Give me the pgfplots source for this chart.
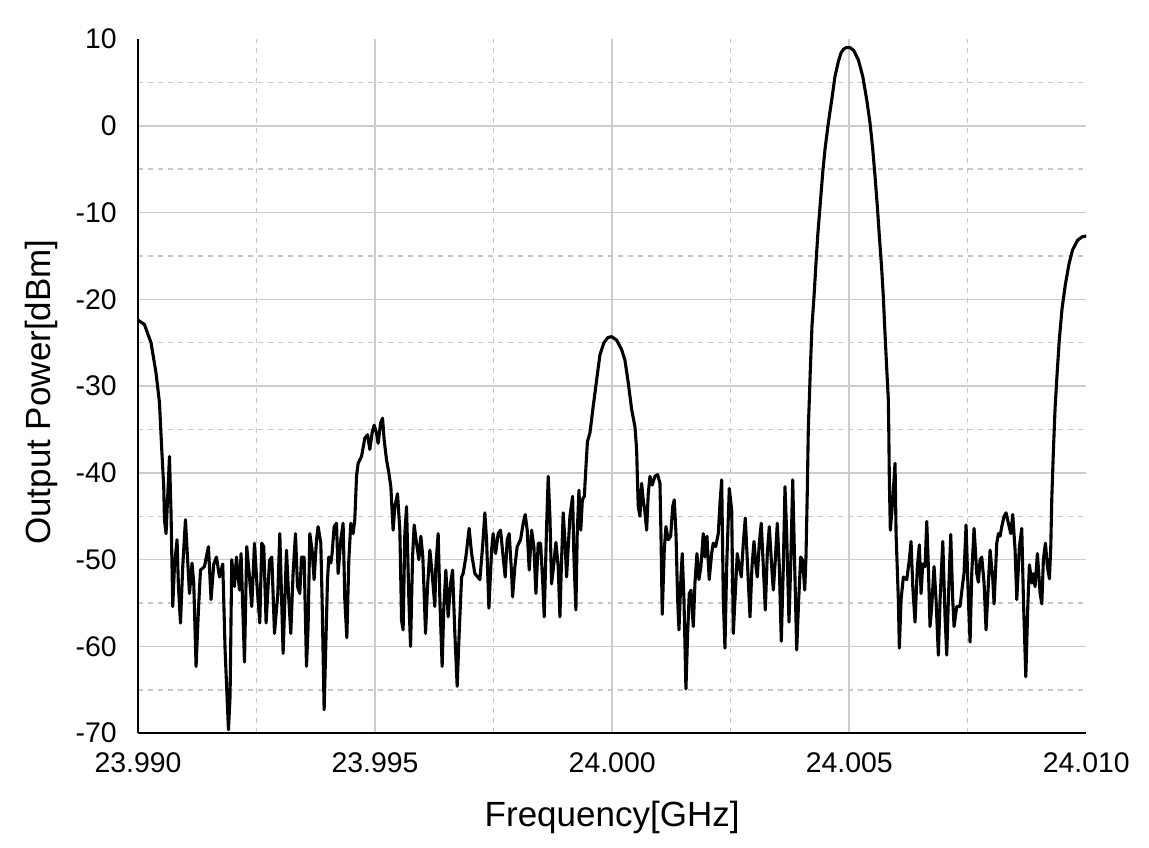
\documentclass[border=0pt]{standalone}
\usepackage{pgfplots}
\pgfplotsset{compat=1.18}
\usepackage{fontspec}
\setmainfont{Liberation Sans}

% x is stored as offset from 24.000 GHz in MHz (keeps precision), relabelled on the axis
\begin{document}
\begin{tikzpicture}
\useasboundingbox (-69pt,-57pt) rectangle (505.35pt,366.5pt);
\begin{axis}[
    at={(0pt,0pt)}, anchor=south west,
    scale only axis,
    width=474pt, height=347pt,
    xmin=-10, xmax=10,
    ymin=-70, ymax=10,
    axis x line*=bottom, axis y line*=left,
    axis line style={-, line width=1.2pt, black},
    major tick length=0pt, minor tick length=0pt,
    xtick={-10,-5,0,5},
    xticklabels={23.990,23.995,24.000,24.005},
    extra x ticks={10}, extra x tick labels={24.010},
    ytick={-70,-60,-50,-40,-30,-20,-10,0},
    yticklabels={-70,-60,-50,-40,-30,-20,-10,0},
    extra y ticks={10}, extra y tick labels={10},
    extra tick style={grid=none},
    minor xtick={-7.5,-2.5,2.5,7.5},
    minor ytick={-65,-55,-45,-35,-25,-15,-5,5},
    grid=both,
    major grid style={solid, black!20, line width=0.75pt},
    minor grid style={black!22, line width=0.7pt, dash pattern=on 2.5pt off 2.5pt},
    /pgf/number format/assume math mode=true,
    tick label style={font=\fontsize{14.2}{16}\selectfont},
    xticklabel style={anchor=north, inner sep=0pt, yshift=-9.5pt},
    yticklabel style={anchor=east, inner sep=0pt, xshift=-10.5pt},
    xlabel={Frequency[GHz]},
    ylabel={Output Power[dBm]},
    label style={font=\fontsize{17.5}{20}\selectfont},
    xlabel style={at={([yshift=-46.5pt]axis description cs:0.5,0)}, anchor=base},
    ylabel style={at={([xshift=-44pt, yshift=-3pt]axis description cs:0,0.5)}, anchor=base, rotate=0},
  ]
\addplot[black, line width=1.55pt, line join=round, mark=none] table {
x y
-10.000 -22.4
-9.865 -22.9
-9.726 -25.0
-9.620 -28.5
-9.548 -31.9
-9.500 -37.3
-9.458 -41.6
-9.443 -45.4
-9.409 -47.0
-9.337 -38.1
-9.304 -44.6
-9.268 -55.4
-9.232 -50.8
-9.177 -47.7
-9.148 -53.1
-9.105 -57.3
-9.057 -50.8
-9.000 -45.4
-8.951 -50.3
-8.915 -53.9
-8.861 -50.4
-8.825 -52.7
-8.776 -62.3
-8.726 -55.8
-8.683 -51.2
-8.599 -50.8
-8.515 -48.5
-8.460 -54.6
-8.403 -50.5
-8.346 -49.7
-8.282 -52.0
-8.213 -50.5
-8.164 -60.4
-8.093 -69.6
-8.059 -65.8
-8.023 -50.0
-7.966 -53.1
-7.924 -49.7
-7.861 -53.5
-7.827 -49.3
-7.755 -61.8
-7.707 -48.5
-7.649 -52.0
-7.601 -55.4
-7.544 -48.1
-7.489 -53.1
-7.432 -57.3
-7.390 -48.1
-7.348 -48.5
-7.299 -57.3
-7.227 -50.1
-7.179 -49.7
-7.122 -58.5
-7.052 -53.9
-7.010 -47.0
-6.940 -60.8
-6.869 -48.9
-6.820 -54.6
-6.778 -58.5
-6.730 -51.6
-6.679 -47.0
-6.637 -53.1
-6.588 -53.9
-6.552 -49.7
-6.497 -49.7
-6.447 -62.3
-6.413 -57.7
-6.377 -47.0
-6.329 -48.9
-6.286 -52.3
-6.236 -47.7
-6.202 -46.2
-6.145 -48.1
-6.118 -54.6
-6.075 -67.3
-6.033 -58.5
-6.004 -52.3
-5.976 -49.7
-5.934 -50.4
-5.907 -49.3
-5.864 -46.2
-5.814 -45.8
-5.780 -51.6
-5.723 -47.7
-5.675 -45.8
-5.639 -54.6
-5.596 -59.0
-5.554 -50.0
-5.512 -45.8
-5.464 -47.0
-5.428 -45.4
-5.392 -40.4
-5.358 -38.9
-5.286 -38.1
-5.217 -36.0
-5.160 -35.6
-5.111 -37.3
-5.063 -35.4
-5.020 -34.5
-4.970 -35.4
-4.936 -36.6
-4.885 -34.3
-4.843 -33.7
-4.809 -36.2
-4.759 -38.5
-4.710 -40.0
-4.668 -41.6
-4.620 -46.6
-4.584 -43.9
-4.527 -42.4
-4.478 -46.6
-4.442 -57.0
-4.409 -58.1
-4.373 -47.0
-4.337 -43.9
-4.288 -54.6
-4.252 -60.0
-4.210 -49.7
-4.176 -46.0
-4.126 -48.1
-4.077 -50.0
-4.035 -47.3
-3.993 -49.7
-3.936 -58.5
-3.894 -53.1
-3.845 -48.9
-3.797 -51.6
-3.740 -55.4
-3.719 -50.8
-3.670 -47.0
-3.634 -54.6
-3.586 -62.3
-3.550 -55.4
-3.508 -51.2
-3.459 -56.6
-3.408 -52.7
-3.366 -51.2
-3.318 -58.5
-3.269 -64.6
-3.227 -58.5
-3.176 -52.0
-3.143 -51.6
-3.086 -49.7
-3.016 -46.4
-2.965 -49.3
-2.896 -51.6
-2.790 -52.3
-2.733 -48.5
-2.685 -44.6
-2.649 -47.7
-2.600 -55.6
-2.543 -48.9
-2.510 -47.0
-2.459 -49.3
-2.404 -47.0
-2.354 -46.6
-2.299 -49.7
-2.256 -52.0
-2.214 -47.7
-2.172 -47.0
-2.121 -51.6
-2.100 -54.3
-2.052 -50.8
-2.003 -48.5
-1.932 -47.7
-1.877 -45.8
-1.834 -44.8
-1.792 -46.6
-1.750 -51.2
-1.699 -46.6
-1.651 -48.5
-1.608 -53.9
-1.560 -48.1
-1.510 -48.1
-1.467 -52.3
-1.433 -56.6
-1.383 -46.2
-1.349 -40.4
-1.313 -45.0
-1.278 -52.8
-1.229 -50.4
-1.187 -48.0
-1.138 -50.8
-1.102 -56.6
-1.067 -50.0
-1.033 -44.6
-0.997 -47.7
-0.961 -52.0
-0.891 -45.0
-0.834 -42.7
-0.807 -49.7
-0.765 -55.8
-0.737 -47.0
-0.701 -42.0
-0.662 -46.6
-0.629 -43.1
-0.587 -42.7
-0.553 -39.3
-0.522 -36.4
-0.469 -35.4
-0.399 -32.3
-0.328 -29.3
-0.258 -26.4
-0.174 -25.0
-0.089 -24.4
-0.011 -24.3
0.094 -24.7
0.200 -25.8
0.269 -27.0
0.339 -29.6
0.411 -32.7
0.481 -34.7
0.516 -37.3
0.529 -40.0
0.550 -43.9
0.586 -45.0
0.621 -41.2
0.655 -43.1
0.691 -44.5
0.727 -46.6
0.761 -42.4
0.797 -40.4
0.845 -41.4
0.902 -40.4
0.959 -40.2
1.008 -41.2
1.029 -47.0
1.056 -56.3
1.099 -48.9
1.134 -46.2
1.183 -47.7
1.234 -47.3
1.276 -43.9
1.310 -43.1
1.346 -47.0
1.381 -54.6
1.409 -58.1
1.451 -52.0
1.478 -49.3
1.514 -54.6
1.556 -64.9
1.592 -58.5
1.626 -53.9
1.662 -53.5
1.711 -57.7
1.746 -52.7
1.788 -49.3
1.830 -52.3
1.872 -50.8
1.921 -47.0
1.957 -49.7
1.999 -47.3
2.047 -52.3
2.098 -49.3
2.132 -48.1
2.183 -48.5
2.238 -47.0
2.274 -43.5
2.310 -40.8
2.344 -54.6
2.379 -60.2
2.415 -50.8
2.470 -41.8
2.521 -44.3
2.555 -58.5
2.590 -54.6
2.639 -49.3
2.681 -50.8
2.723 -52.0
2.766 -48.1
2.808 -45.2
2.850 -50.0
2.907 -56.6
2.949 -50.8
2.991 -47.9
3.034 -50.8
3.061 -52.0
3.103 -48.1
3.145 -45.8
3.188 -50.8
3.230 -55.8
3.272 -49.3
3.314 -46.2
3.365 -50.8
3.399 -53.5
3.441 -50.0
3.483 -45.8
3.525 -50.8
3.567 -59.4
3.610 -50.8
3.645 -41.6
3.681 -47.0
3.729 -57.2
3.765 -50.8
3.808 -40.8
3.850 -50.8
3.892 -60.4
3.934 -54.6
3.977 -49.7
4.019 -50.1
4.061 -53.5
4.088 -49.7
4.116 -42.0
4.137 -34.9
4.158 -31.6
4.183 -27.5
4.215 -23.0
4.257 -19.7
4.299 -15.8
4.335 -12.7
4.384 -9.3
4.441 -5.4
4.489 -2.7
4.559 0.3
4.631 3.0
4.700 5.7
4.770 7.4
4.827 8.4
4.876 8.8
4.933 9.0
5.017 9.0
5.091 8.7
5.192 7.6
5.285 5.7
5.369 3.0
5.439 0.3
5.496 -2.7
5.544 -5.8
5.593 -9.3
5.635 -12.7
5.686 -16.6
5.719 -19.7
5.755 -24.0
5.791 -28.0
5.825 -31.6
5.834 -35.0
5.846 -40.8
5.867 -46.6
5.918 -43.1
5.966 -38.9
5.988 -47.0
6.036 -54.6
6.057 -60.2
6.093 -54.6
6.142 -52.0
6.213 -52.3
6.268 -50.0
6.304 -47.9
6.340 -53.1
6.388 -57.2
6.437 -50.8
6.479 -48.3
6.515 -53.9
6.551 -50.5
6.600 -50.8
6.635 -45.6
6.669 -50.8
6.704 -57.7
6.740 -55.4
6.789 -50.8
6.831 -54.6
6.880 -61.0
6.916 -54.6
6.973 -47.9
7.021 -56.6
7.057 -61.0
7.091 -54.6
7.141 -47.1
7.183 -54.6
7.211 -57.7
7.268 -55.4
7.337 -55.4
7.394 -52.7
7.421 -51.6
7.464 -46.0
7.513 -54.6
7.549 -59.5
7.584 -51.6
7.633 -46.4
7.690 -51.6
7.724 -52.6
7.760 -50.0
7.795 -49.7
7.844 -52.7
7.886 -58.1
7.935 -52.7
7.971 -48.9
8.028 -52.3
8.055 -55.1
8.112 -48.1
8.146 -47.0
8.181 -47.3
8.217 -46.2
8.266 -45.0
8.308 -44.6
8.357 -45.8
8.407 -47.0
8.449 -44.8
8.498 -48.9
8.534 -54.6
8.589 -48.5
8.639 -46.4
8.674 -54.6
8.724 -63.5
8.766 -55.4
8.800 -50.6
8.851 -52.7
8.884 -51.6
8.920 -53.1
8.969 -49.3
9.026 -53.9
9.062 -55.1
9.095 -50.0
9.138 -48.1
9.180 -50.8
9.222 -52.2
9.251 -48.5
9.272 -43.0
9.307 -37.3
9.342 -32.5
9.384 -28.6
9.431 -24.6
9.488 -21.1
9.558 -18.3
9.636 -15.9
9.710 -14.3
9.815 -13.2
9.910 -12.8
10.000 -12.7
};
\end{axis}
\end{tikzpicture}
\end{document}
